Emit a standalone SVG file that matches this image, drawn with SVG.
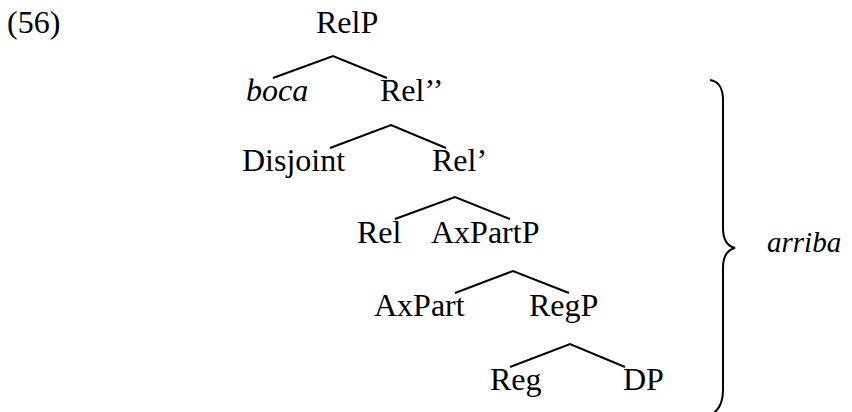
<svg xmlns="http://www.w3.org/2000/svg" width="852" height="412" viewBox="0 0 852 412">
<style>
.t { font-family: 'Liberation Serif', 'Times New Roman', serif; font-size: 32px; fill: #000; }
.it { font-style: italic; }
.sm { font-size: 29px; }
.edge { stroke: #000; stroke-width: 2; fill: none; }
</style>
<rect width="852" height="412" fill="#fff"/>
<text class="t" x="7" y="33">(56)</text>
<g id="RelP"><text class="t" x="316" y="33">RelP</text></g>
<g id="boca"><text class="t it" x="246" y="101">boca</text></g>
<g id="Rel2"><text class="t" x="380" y="101">Rel’’</text></g>
<g id="Disjoint"><text class="t" x="242" y="171">Disjoint</text></g>
<g id="Rel1"><text class="t" x="432" y="171">Rel’</text></g>
<g id="Rel"><text class="t" x="357" y="243">Rel</text></g>
<g id="AxPartP"><text class="t" x="431" y="243">AxPartP</text></g>
<g id="AxPart"><text class="t" x="374" y="316">AxPart</text></g>
<g id="RegP"><text class="t" x="529" y="316">RegP</text></g>
<g id="Reg"><text class="t" x="490" y="390">Reg</text></g>
<g id="DP"><text class="t" x="623" y="390">DP</text></g>
<g id="arriba"><text class="t it sm" x="767" y="252">arriba</text></g>
<g id="connectors">
<polyline class="edge" points="273,78 333,56 387,78"/>
<polyline class="edge" points="330,148 391,125 446,148"/>
<polyline class="edge" points="395,219 455,197 510,219"/>
<polyline class="edge" points="455,293 513,271 569,293"/>
<polyline class="edge" points="510,367 570,344 625,367"/>
</g>
<g id="brace"><path class="edge" d="M 710 80 C 718 81, 723 88, 723 100 L 723 228 C 723 240, 727 246, 735 248 C 727 250, 723 256, 723 268 L 723 390 C 723 402, 719 410, 712 414"/></g>
</svg>
